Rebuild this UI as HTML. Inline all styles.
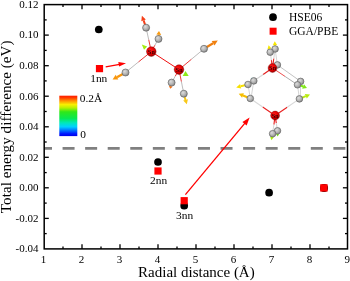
<!DOCTYPE html>
<html><head><meta charset="utf-8">
<style>
html,body{margin:0;padding:0;background:#fff;}
body{width:350px;height:281px;overflow:hidden;}
svg{display:block;position:absolute;left:0;top:0;will-change:transform;}
text{font-family:"Liberation Serif",serif;fill:#000;}
</style></head><body>
<svg width="350" height="281" viewBox="0 0 350 281">
<defs>
<linearGradient id="jet" x1="0" y1="0" x2="0" y2="1">
<stop offset="0" stop-color="#ff1c00"/>
<stop offset="0.05" stop-color="#ff3a00"/>
<stop offset="0.13" stop-color="#ff9400"/>
<stop offset="0.22" stop-color="#f8f000"/>
<stop offset="0.30" stop-color="#b8f000"/>
<stop offset="0.40" stop-color="#30e818"/>
<stop offset="0.56" stop-color="#08e850"/>
<stop offset="0.67" stop-color="#00e8b8"/>
<stop offset="0.77" stop-color="#00d0ff"/>
<stop offset="0.87" stop-color="#0068ff"/>
<stop offset="0.94" stop-color="#0018ff"/>
<stop offset="1" stop-color="#0000e8"/>
</linearGradient>
<radialGradient id="gs" cx="0.38" cy="0.35" r="0.7">
<stop offset="0" stop-color="#dcdcdc"/>
<stop offset="0.55" stop-color="#b4b4b4"/>
<stop offset="1" stop-color="#848484"/>
</radialGradient>
<radialGradient id="rs" cx="0.4" cy="0.35" r="0.7">
<stop offset="0" stop-color="#ff1a1a"/>
<stop offset="0.6" stop-color="#e00000"/>
<stop offset="1" stop-color="#960000"/>
</radialGradient>
</defs>
<rect width="350" height="281" fill="#fff"/>

<line x1="44.2" y1="148.4" x2="347.5" y2="148.4" stroke="#808080" stroke-width="2.6" stroke-dasharray="12 10.567" stroke-dashoffset="4.2"/>
<line x1="151.3" y1="51.6" x2="179.0" y2="69.6" stroke="#f01010" stroke-width="1.0"/>
<line x1="151.3" y1="51.6" x2="148.7" y2="39.6" stroke="#e82020" stroke-width="0.9"/>
<line x1="148.7" y1="39.6" x2="146.1" y2="27.7" stroke="#b4b4b4" stroke-width="0.9"/>
<line x1="151.3" y1="51.6" x2="154.9" y2="45.2" stroke="#e82020" stroke-width="0.9"/>
<line x1="154.9" y1="45.2" x2="158.5" y2="38.9" stroke="#b4b4b4" stroke-width="0.9"/>
<line x1="151.3" y1="51.6" x2="138.4" y2="62.0" stroke="#e82020" stroke-width="0.9"/>
<line x1="138.4" y1="62.0" x2="125.5" y2="72.5" stroke="#b4b4b4" stroke-width="0.9"/>
<line x1="179.0" y1="69.6" x2="191.5" y2="59.2" stroke="#e82020" stroke-width="0.9"/>
<line x1="191.5" y1="59.2" x2="204" y2="48.8" stroke="#b4b4b4" stroke-width="0.9"/>
<line x1="179.0" y1="69.6" x2="175.3" y2="76.1" stroke="#e82020" stroke-width="0.9"/>
<line x1="175.3" y1="76.1" x2="171.6" y2="82.6" stroke="#b4b4b4" stroke-width="0.9"/>
<line x1="179.0" y1="69.6" x2="181.4" y2="81.7" stroke="#e82020" stroke-width="0.9"/>
<line x1="181.4" y1="81.7" x2="183.8" y2="93.7" stroke="#b4b4b4" stroke-width="0.9"/>
<line x1="146.1" y1="27.7" x2="143.6" y2="20.4" stroke="#f5401a" stroke-width="2.0"/>
<path d="M141.9,15.7 L145.8,19.6 L141.3,21.2 Z" fill="#f5401a"/>
<line x1="158.5" y1="38.9" x2="158.8" y2="34.8" stroke="#f89a10" stroke-width="1.8"/>
<path d="M159.0,31.0 L161.2,34.9 L156.4,34.6 Z" fill="#f89a10"/>
<line x1="125.5" y1="72.5" x2="117.0" y2="77.2" stroke="#f8960c" stroke-width="2.4"/>
<path d="M112.6,79.6 L115.7,74.8 L118.3,79.6 Z" fill="#f8960c"/>
<line x1="204" y1="48.8" x2="213.1" y2="43.3" stroke="#f08010" stroke-width="2.2"/>
<path d="M217.8,40.4 L214.5,45.6 L211.7,41.0 Z" fill="#f08010"/>
<line x1="171.6" y1="82.6" x2="170.8" y2="86.3" stroke="#f57010" stroke-width="1.6"/>
<path d="M170.2,88.8 L168.9,85.8 L172.6,86.7 Z" fill="#f57010"/>
<line x1="183.8" y1="93.7" x2="185.5" y2="99.9" stroke="#f8c818" stroke-width="2.0"/>
<path d="M186.8,104.3 L183.2,100.5 L187.9,99.2 Z" fill="#f8c818"/>
<circle cx="146.1" cy="27.7" r="3.5" fill="url(#gs)" stroke="#666" stroke-width="0.7"/>
<circle cx="158.5" cy="38.9" r="3.5" fill="url(#gs)" stroke="#666" stroke-width="0.7"/>
<circle cx="125.5" cy="72.5" r="3.5" fill="url(#gs)" stroke="#666" stroke-width="0.7"/>
<circle cx="204" cy="48.8" r="3.5" fill="url(#gs)" stroke="#666" stroke-width="0.7"/>
<circle cx="171.6" cy="82.6" r="3.5" fill="url(#gs)" stroke="#666" stroke-width="0.7"/>
<circle cx="183.8" cy="93.7" r="3.5" fill="url(#gs)" stroke="#666" stroke-width="0.7"/>
<path d="M141.8,44.4 L147.2,46.4 L144.0,49.8 Z" fill="#a6ec10"/>
<path d="M185.5,71.0 L182.7,75.9 L188.7,76.0 Z" fill="#8cea18"/>
<circle cx="151.3" cy="51.6" r="4.8" fill="url(#rs)" stroke="#700" stroke-width="0.4"/>
<text x="151.3" y="53.6" font-size="6.5" text-anchor="middle" fill="#000">Sn</text>
<circle cx="179.0" cy="69.6" r="4.8" fill="url(#rs)" stroke="#700" stroke-width="0.4"/>
<text x="179.0" y="71.6" font-size="6.5" text-anchor="middle" fill="#000">Sn</text>
<line x1="270.2" y1="52.2" x2="269.4" y2="48.7" stroke="#f8e800" stroke-width="1.3"/>
<path d="M268.6,45.2 L271.4,48.3 L267.5,49.2 Z" fill="#f8e800"/>
<line x1="275.1" y1="49.0" x2="274.9" y2="45.1" stroke="#f8e800" stroke-width="1.4"/>
<path d="M274.8,41.3 L277.1,45.0 L272.7,45.2 Z" fill="#f8e800"/>
<line x1="248.0" y1="84.5" x2="240.7" y2="86.3" stroke="#f6e000" stroke-width="2.0"/>
<path d="M236.2,87.4 L240.1,84.0 L241.2,88.6 Z" fill="#f6e000"/>
<line x1="250.3" y1="98.5" x2="243.0" y2="95.5" stroke="#f6be00" stroke-width="2.0"/>
<path d="M238.7,93.8 L243.9,93.3 L242.1,97.8 Z" fill="#f6be00"/>
<line x1="299.0" y1="84.9" x2="303.1" y2="86.5" stroke="#80e818" stroke-width="2.0"/>
<path d="M307.0,88.0 L302.2,88.7 L304.0,84.2 Z" fill="#80e818"/>
<line x1="300.0" y1="98.7" x2="305.8" y2="96.2" stroke="#b8ea10" stroke-width="2.0"/>
<path d="M310.0,94.4 L306.8,98.5 L304.8,93.9 Z" fill="#b8ea10"/>
<line x1="272.6" y1="133.7" x2="272.0" y2="136.8" stroke="#a8ee10" stroke-width="1.4"/>
<path d="M271.4,140.3 L270.1,136.4 L274.0,137.1 Z" fill="#a8ee10"/>
<line x1="277.5" y1="130.8" x2="277.6" y2="133.8" stroke="#70d818" stroke-width="1.2"/>
<path d="M277.7,136.4 L276.0,133.9 L279.2,133.7 Z" fill="#70d818"/>
<line x1="277.4" y1="64.9" x2="300.6" y2="81.4" stroke="#999" stroke-width="0.6"/>
<line x1="277.4" y1="64.9" x2="253.8" y2="80.9" stroke="#bbb" stroke-width="0.5"/>
<line x1="248.0" y1="84.5" x2="250.3" y2="98.5" stroke="#aaa" stroke-width="0.5"/>
<line x1="297.5" y1="84.8" x2="299.4" y2="98.9" stroke="#aaa" stroke-width="0.5"/>
<line x1="253.8" y1="80.9" x2="251.3" y2="96.5" stroke="#aaa" stroke-width="0.5"/>
<line x1="300.6" y1="81.4" x2="300.4" y2="96.9" stroke="#aaa" stroke-width="0.5"/>
<line x1="277.4" y1="64.9" x2="275.1" y2="49.0" stroke="#aaa" stroke-width="0.5"/>
<circle cx="277.4" cy="64.9" r="3.3" fill="url(#gs)" stroke="#666" stroke-width="0.7"/>
<line x1="272.5" y1="68.0" x2="271.4" y2="60.1" stroke="#e82020" stroke-width="1.1"/>
<line x1="271.4" y1="60.1" x2="270.2" y2="52.2" stroke="#d8d8d8" stroke-width="1.1"/>
<line x1="272.5" y1="68.0" x2="273.8" y2="58.5" stroke="#e82020" stroke-width="1.1"/>
<line x1="273.8" y1="58.5" x2="275.1" y2="49.0" stroke="#d8d8d8" stroke-width="1.1"/>
<line x1="272.5" y1="68.0" x2="263.1" y2="74.5" stroke="#e82020" stroke-width="1.1"/>
<line x1="263.1" y1="74.5" x2="253.8" y2="80.9" stroke="#d8d8d8" stroke-width="1.1"/>
<line x1="272.5" y1="68.0" x2="285.0" y2="76.4" stroke="#e82020" stroke-width="0.8"/>
<line x1="285.0" y1="76.4" x2="297.5" y2="84.8" stroke="#999" stroke-width="0.8"/>
<line x1="275.1" y1="115.5" x2="262.7" y2="107.0" stroke="#e82020" stroke-width="1.1"/>
<line x1="262.7" y1="107.0" x2="250.3" y2="98.5" stroke="#d8d8d8" stroke-width="1.1"/>
<line x1="275.1" y1="115.5" x2="287.2" y2="107.2" stroke="#e82020" stroke-width="1.1"/>
<line x1="287.2" y1="107.2" x2="299.4" y2="98.9" stroke="#d8d8d8" stroke-width="1.1"/>
<line x1="275.1" y1="115.5" x2="273.9" y2="124.6" stroke="#e82020" stroke-width="1.1"/>
<line x1="273.9" y1="124.6" x2="272.6" y2="133.7" stroke="#d8d8d8" stroke-width="1.1"/>
<line x1="275.1" y1="115.5" x2="276.3" y2="123.2" stroke="#e82020" stroke-width="1.1"/>
<line x1="276.3" y1="123.2" x2="277.5" y2="130.8" stroke="#d8d8d8" stroke-width="1.1"/>
<path d="M252.2,77.6 L250.8,78.8 L252.6,79.2 Z" fill="#20d8e8"/>
<circle cx="253.8" cy="80.9" r="3.3" fill="url(#gs)" stroke="#666" stroke-width="0.7"/>
<circle cx="248.0" cy="84.5" r="3.3" fill="url(#gs)" stroke="#666" stroke-width="0.7"/>
<circle cx="300.6" cy="81.4" r="3.3" fill="url(#gs)" stroke="#666" stroke-width="0.7"/>
<circle cx="297.5" cy="84.8" r="3.3" fill="url(#gs)" stroke="#666" stroke-width="0.7"/>
<circle cx="250.3" cy="98.5" r="3.3" fill="url(#gs)" stroke="#666" stroke-width="0.7"/>
<circle cx="299.4" cy="98.9" r="3.3" fill="url(#gs)" stroke="#666" stroke-width="0.7"/>
<circle cx="275.1" cy="49.0" r="3.3" fill="url(#gs)" stroke="#666" stroke-width="0.7"/>
<circle cx="270.2" cy="52.2" r="3.3" fill="url(#gs)" stroke="#666" stroke-width="0.7"/>
<circle cx="277.5" cy="130.8" r="3.3" fill="url(#gs)" stroke="#666" stroke-width="0.7"/>
<circle cx="272.6" cy="133.7" r="3.3" fill="url(#gs)" stroke="#666" stroke-width="0.7"/>
<circle cx="272.5" cy="68.0" r="4.4" fill="url(#rs)" stroke="#700" stroke-width="0.4"/>
<text x="272.5" y="70.0" font-size="6.5" text-anchor="middle" fill="#000">Sn</text>
<circle cx="275.1" cy="115.5" r="4.4" fill="url(#rs)" stroke="#700" stroke-width="0.4"/>
<text x="275.1" y="117.5" font-size="6.5" text-anchor="middle" fill="#000">Sn</text>
<rect x="44.2" y="4.6" width="303.3" height="244.3" fill="none" stroke="#000" stroke-width="1.5"/>
<g stroke="#000" stroke-width="1.3">
<line x1="63.0" y1="248.9" x2="63.0" y2="246.4"/>
<line x1="63.0" y1="4.6" x2="63.0" y2="7.1"/>
<line x1="82.0" y1="248.9" x2="82.0" y2="244.3"/>
<line x1="82.0" y1="4.6" x2="82.0" y2="9.2"/>
<line x1="101.0" y1="248.9" x2="101.0" y2="246.4"/>
<line x1="101.0" y1="4.6" x2="101.0" y2="7.1"/>
<line x1="120.0" y1="248.9" x2="120.0" y2="244.3"/>
<line x1="120.0" y1="4.6" x2="120.0" y2="9.2"/>
<line x1="139.0" y1="248.9" x2="139.0" y2="246.4"/>
<line x1="139.0" y1="4.6" x2="139.0" y2="7.1"/>
<line x1="158.0" y1="248.9" x2="158.0" y2="244.3"/>
<line x1="158.0" y1="4.6" x2="158.0" y2="9.2"/>
<line x1="177.0" y1="248.9" x2="177.0" y2="246.4"/>
<line x1="177.0" y1="4.6" x2="177.0" y2="7.1"/>
<line x1="196.0" y1="248.9" x2="196.0" y2="244.3"/>
<line x1="196.0" y1="4.6" x2="196.0" y2="9.2"/>
<line x1="215.0" y1="248.9" x2="215.0" y2="246.4"/>
<line x1="215.0" y1="4.6" x2="215.0" y2="7.1"/>
<line x1="234.0" y1="248.9" x2="234.0" y2="244.3"/>
<line x1="234.0" y1="4.6" x2="234.0" y2="9.2"/>
<line x1="253.0" y1="248.9" x2="253.0" y2="246.4"/>
<line x1="253.0" y1="4.6" x2="253.0" y2="7.1"/>
<line x1="272.0" y1="248.9" x2="272.0" y2="244.3"/>
<line x1="272.0" y1="4.6" x2="272.0" y2="9.2"/>
<line x1="291.0" y1="248.9" x2="291.0" y2="246.4"/>
<line x1="291.0" y1="4.6" x2="291.0" y2="7.1"/>
<line x1="310.0" y1="248.9" x2="310.0" y2="244.3"/>
<line x1="310.0" y1="4.6" x2="310.0" y2="9.2"/>
<line x1="329.0" y1="248.9" x2="329.0" y2="246.4"/>
<line x1="329.0" y1="4.6" x2="329.0" y2="7.1"/>
<line x1="44.2" y1="19.9" x2="46.7" y2="19.9"/>
<line x1="347.5" y1="19.9" x2="345.0" y2="19.9"/>
<line x1="44.2" y1="35.1" x2="48.800000000000004" y2="35.1"/>
<line x1="347.5" y1="35.1" x2="342.9" y2="35.1"/>
<line x1="44.2" y1="50.4" x2="46.7" y2="50.4"/>
<line x1="347.5" y1="50.4" x2="345.0" y2="50.4"/>
<line x1="44.2" y1="65.7" x2="48.800000000000004" y2="65.7"/>
<line x1="347.5" y1="65.7" x2="342.9" y2="65.7"/>
<line x1="44.2" y1="80.9" x2="46.7" y2="80.9"/>
<line x1="347.5" y1="80.9" x2="345.0" y2="80.9"/>
<line x1="44.2" y1="96.2" x2="48.800000000000004" y2="96.2"/>
<line x1="347.5" y1="96.2" x2="342.9" y2="96.2"/>
<line x1="44.2" y1="111.5" x2="46.7" y2="111.5"/>
<line x1="347.5" y1="111.5" x2="345.0" y2="111.5"/>
<line x1="44.2" y1="126.8" x2="48.800000000000004" y2="126.8"/>
<line x1="347.5" y1="126.8" x2="342.9" y2="126.8"/>
<line x1="44.2" y1="142.0" x2="46.7" y2="142.0"/>
<line x1="347.5" y1="142.0" x2="345.0" y2="142.0"/>
<line x1="44.2" y1="157.3" x2="48.800000000000004" y2="157.3"/>
<line x1="347.5" y1="157.3" x2="342.9" y2="157.3"/>
<line x1="44.2" y1="172.6" x2="46.7" y2="172.6"/>
<line x1="347.5" y1="172.6" x2="345.0" y2="172.6"/>
<line x1="44.2" y1="187.8" x2="48.800000000000004" y2="187.8"/>
<line x1="347.5" y1="187.8" x2="342.9" y2="187.8"/>
<line x1="44.2" y1="203.1" x2="46.7" y2="203.1"/>
<line x1="347.5" y1="203.1" x2="345.0" y2="203.1"/>
<line x1="44.2" y1="218.4" x2="48.800000000000004" y2="218.4"/>
<line x1="347.5" y1="218.4" x2="342.9" y2="218.4"/>
<line x1="44.2" y1="233.6" x2="46.7" y2="233.6"/>
<line x1="347.5" y1="233.6" x2="345.0" y2="233.6"/>
</g>
<g font-size="11" text-anchor="end">
<text x="38.5" y="7.9">0.12</text>
<text x="38.5" y="38.4">0.10</text>
<text x="38.5" y="69.0">0.08</text>
<text x="38.5" y="99.5">0.06</text>
<text x="38.5" y="130.1">0.04</text>
<text x="38.5" y="160.6">0.02</text>
<text x="38.5" y="191.1">0.00</text>
<text x="38.5" y="221.7">-0.02</text>
<text x="38.5" y="252.2">-0.04</text>
</g>
<g font-size="11" text-anchor="middle">
<text x="43.6" y="262.5">1</text>
<text x="81.6" y="262.5">2</text>
<text x="119.6" y="262.5">3</text>
<text x="157.6" y="262.5">4</text>
<text x="195.6" y="262.5">5</text>
<text x="233.6" y="262.5">6</text>
<text x="271.6" y="262.5">7</text>
<text x="309.6" y="262.5">8</text>
<text x="347.3" y="262.5">9</text>
</g>
<text x="196.4" y="277" font-size="15" text-anchor="middle">Radial distance (Å)</text>
<text transform="translate(10.5,126.8) rotate(-90)" font-size="15" text-anchor="middle" textLength="172.7" lengthAdjust="spacing">Total energy difference (eV)</text>
<circle cx="273" cy="17.2" r="3.85" fill="#000"/>
<rect x="269.6" y="27.7" width="7" height="7" fill="#f00"/>
<text x="289" y="20.8" font-size="11.5">HSE06</text>
<text x="289" y="34.8" font-size="11.5">GGA/PBE</text>
<rect x="59.3" y="95.7" width="18.0" height="40.4" fill="url(#jet)"/>
<text x="79.7" y="101.6" font-size="11.4">0.2Å</text>
<text x="80.3" y="137.6" font-size="11.4">0</text>
<circle cx="98.8" cy="29.5" r="3.85" fill="#000"/>
<rect x="95.9" y="65.0" width="7.2" height="7.2" fill="#f00"/>
<text x="90.2" y="81.8" font-size="11.4">1nn</text>
<circle cx="158" cy="162" r="3.85" fill="#000"/>
<rect x="154.4" y="167.4" width="7.2" height="7.2" fill="#f00"/>
<text x="150.0" y="184.0" font-size="11.4">2nn</text>
<circle cx="184.2" cy="205.7" r="3.85" fill="#000"/>
<rect x="180.6" y="197.1" width="7.2" height="7.2" fill="#f00"/>
<text x="176.0" y="218.9" font-size="11.4">3nn</text>
<circle cx="269.1" cy="192.7" r="3.85" fill="#000"/>
<circle cx="324.05" cy="188.05" r="4.0" fill="#000"/>
<rect x="320.2" y="184.2" width="7.4" height="7.4" fill="#f00"/>
<g stroke="#f00" stroke-width="1.3" fill="#f00">
<line x1="105.7" y1="66.8" x2="121" y2="64.1"/>
<path d="M126,63.2 L118.3,62 L119.1,66.6 Z" stroke="none"/>
<line x1="185.4" y1="194.6" x2="246" y2="121.8"/>
<path d="M249.6,117.6 L242.4,122.0 L246.6,125.6 Z" stroke="none"/>
</g>
</svg>
</body></html>
